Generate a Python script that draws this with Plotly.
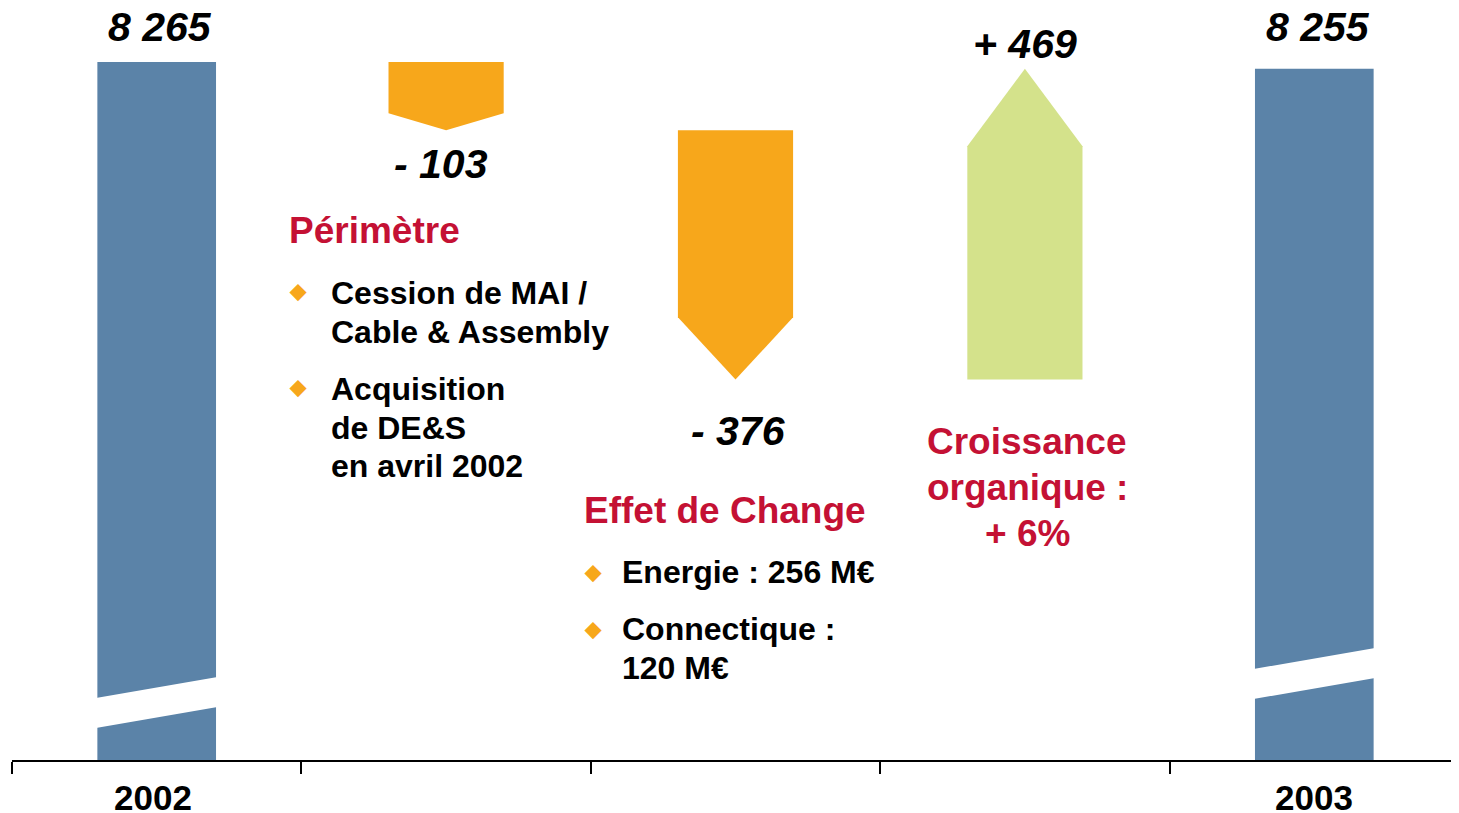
import plotly.graph_objects as go

# data
years = ["2002", "2003"]
totals = [8265, 8255]
changes = [-103, -376, 469]
change_titles = ["Périmètre", "Effet de Change", "Croissance<br>organique :<br>+ 6%"]
perimetre_notes = [["Cession de MAI /", "Cable & Assembly"],
                   ["Acquisition", "de DE&S", "en avril 2002"]]
change_notes = [["Energie : 256 M€"], ["Connectique :", "120 M€"]]

BLUE = "#5B83A8"
ORANGE = "#F7A71B"
GREEN = "#D4E28B"
RED = "#C41134"
FONT = "Liberation Sans, Arial, sans-serif"

# page body has an 8px margin, so the figure is shrunk and shifted
OFF = 8
W, H = 1459 - OFF, 813 - OFF
L, R, T, B = 12 - OFF, 0, 20 - OFF, 53
PW, PH = W - L - R, H - T - B
PX_PER_UNIT = 0.663
y_top = totals[0] + (62 - OFF - T) / PX_PER_UNIT
y_bot = y_top - PH / PX_PER_UNIT


def px(x):
    # screen x -> paper
    return (x - OFF - L) / PW


def py(y):
    # screen y -> paper
    return (H - B - (y - OFF)) / PH


fig = go.Figure()

# start / end totals
fig.add_trace(go.Bar(x=[0, 4], y=totals, width=0.41, marker_color=BLUE,
                     marker_line_width=0, hoverinfo="skip"))

# arrows for the changes
level = totals[0]
half = 0.199
for i, d in enumerate(changes, start=1):
    end = level + d
    head = 0.25 * abs(d)
    shoulder = end - head if d > 0 else end + head
    color = GREEN if d > 0 else ORANGE
    fig.add_trace(go.Scatter(
        x=[i - half, i + half, i + half, i, i - half, i - half],
        y=[level, level, shoulder, end, shoulder, level],
        fill="toself", fillcolor=color, mode="lines",
        line=dict(width=0, color=color), hoverinfo="skip"))
    level = end

# axis break bands on the total bars
breaks = [(0, 698, 677, 728, 707), (4, 669, 648, 699, 678)]
for cx, ul, ur, ll, lr in breaks:
    x0, x1 = cx - 0.21, cx + 0.21
    fig.add_shape(type="path", xref="x", yref="paper", layer="above",
                  path=f"M {x0},{py(ul)} L {x1},{py(ur)} L {x1},{py(lr)} L {x0},{py(ll)} Z",
                  fillcolor="white", line=dict(width=0))

anns = []


def ann(x, y, text, size, color="black", italic=False, anchor="center", height=None):
    a = dict(xref="paper", yref="paper", x=px(x), y=py(y), text=text,
             showarrow=False, xanchor=anchor, yanchor="middle",
             font=dict(family=FONT, size=size, color=color,
                       style="italic" if italic else "normal",
                       weight="bold"))
    if height:
        a["height"] = height
    anns.append(a)


def fmt(v, sign=False):
    s = f"{abs(v):,}".replace(",", " ")
    if sign:
        s = ("+ " if v > 0 else "- ") + s
    return s


# value labels
ann(160, 27, fmt(totals[0]), 41, italic=True, height=36)
ann(1318, 27, fmt(totals[1]), 41, italic=True, height=36)
ann(441, 164, fmt(changes[0], True), 41, italic=True)
ann(738, 431, fmt(changes[1], True), 41, italic=True)
ann(1025, 44, fmt(changes[2], True), 41, italic=True)

# year labels
ann(153, 797, years[0], 35, height=30)
ann(1314, 797, years[1], 35, height=30)

# Périmètre block
ann(287, 230, change_titles[0], 37, RED, anchor="left")
for lines, y0 in zip(perimetre_notes, [293, 389]):
    ann(297.5, y0 - 3, "◆", 21, ORANGE)
    for k, t in enumerate(lines):
        ann(329, y0 + 38.5 * k, t, 32, anchor="left")

# Effet de change block
ann(582, 510, change_titles[1], 37, RED, anchor="left")
for lines, y0 in zip(change_notes, [572, 629]):
    ann(592.5, y0 - 1, "◆", 21, ORANGE)
    for k, t in enumerate(lines):
        ann(620, y0 + 39 * k, t, 32, anchor="left")

# croissance block
for k, t in enumerate(change_titles[2].split("<br>")):
    ann(1027, 442 + 45.5 * k, t, 37, RED)

fig.update_layout(
    width=W, height=H,
    margin=dict(l=L, r=R, t=T, b=B),
    plot_bgcolor="white", paper_bgcolor="white",
    showlegend=False,
    annotations=anns,
    xaxis=dict(range=[-0.5, 4.5], showgrid=False, zeroline=False,
               showline=True, linecolor="black", linewidth=2,
               tickvals=[-0.5, 0.5, 1.5, 2.5, 3.5], ticks="outside",
               ticklen=12, tickwidth=2, tickcolor="black",
               showticklabels=False),
    yaxis=dict(range=[y_bot, y_top], visible=False),
)

fig.write_html("out.html")
